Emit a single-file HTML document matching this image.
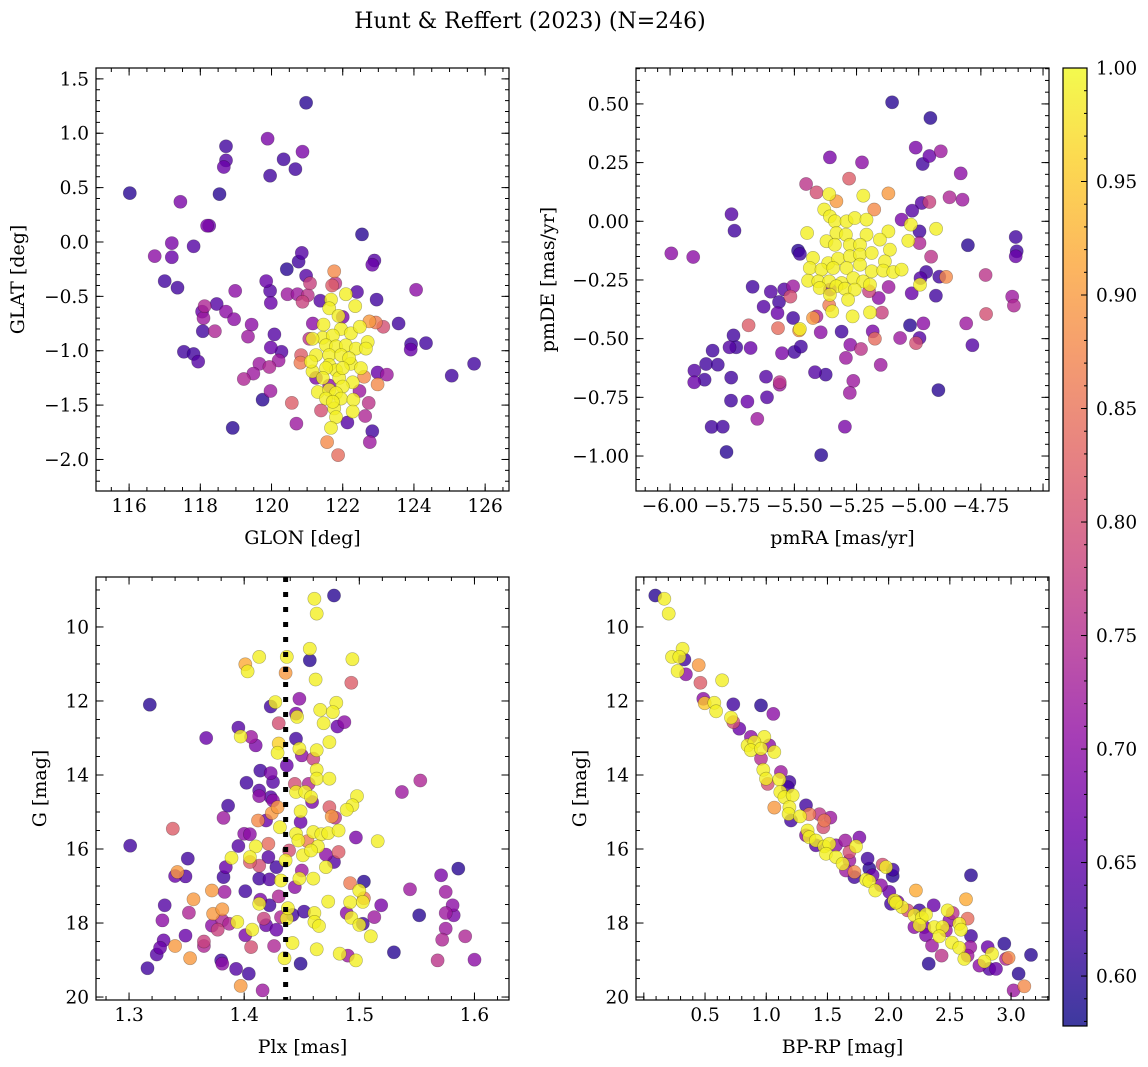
<!DOCTYPE html>
<html><head><meta charset="utf-8">
<style>
html,body{margin:0;padding:0;background:#fff;}
svg{display:block;font-family:"DejaVu Serif","Liberation Serif",serif;}
</style></head>
<body>
<svg id="fig" width="1148" height="1067" viewBox="0 0 1148 1067" xmlns="http://www.w3.org/2000/svg">
<defs>
<linearGradient id="cbgrad" x1="0" y1="1" x2="0" y2="0">
<stop offset="0" stop-color="#0d0887"/><stop offset="0.1" stop-color="#41049d"/><stop offset="0.2" stop-color="#6a00a8"/><stop offset="0.3" stop-color="#8f0da4"/><stop offset="0.4" stop-color="#b12a90"/><stop offset="0.5" stop-color="#cc4778"/><stop offset="0.6" stop-color="#e16462"/><stop offset="0.7" stop-color="#f2844b"/><stop offset="0.8" stop-color="#fca636"/><stop offset="0.9" stop-color="#fcce25"/><stop offset="1" stop-color="#f0f921"/>
</linearGradient>
</defs>
<text x="530" y="28" font-size="22" text-anchor="middle">Hunt &amp; Reffert (2023) (N=246)</text>
</svg>
<script>
// ---- Panel 1: GLON / GLAT ----
const p1Glon=[120.97,119.89,118.72,118.72,118.66,120.34,120.87,120.67,119.96,116.02,118.54,117.44,118.19,118.25,117.20,116.72,117.20,117.81,122.54,120.85,120.76,120.43,122.89,122.83,117.00,117.36,120.97,121.76,119.85,119.96,118.98,120.45,120.73,121.02,121.08,120.87,121.70,121.79,124.06,122.95,122.40,121.37,119.98,118.46,118.12,118.05,118.72,118.95,118.09,119.44,118.07,118.41,119.34,120.08,123.57,123.14,122.93,122.75,123.92,123.91,124.34,125.69,125.06,117.54,117.81,117.94,119.98,120.28,120.20,119.66,119.94,119.49,119.22,120.81,121.06,122.98,123.24,122.98,122.60,119.75,119.97,120.57,121.39,120.70,118.91,122.13,122.73,122.63,122.83,122.76,121.56,121.87,122.47,121.16,122.00,121.25,120.83,121.62,
121.67,121.62,121.88,122.09,122.35,121.46,121.95,122.23,122.48,121.44,121.15,121.72,121.53,121.81,122.09,122.37,122.70,122.65,121.25,121.62,121.95,122.23,121.62,121.81,121.53,121.15,121.44,121.90,122.28,122.00,121.30,121.62,121.81,121.53,121.95,122.30,121.76,122.28,121.81,121.67,121.72,122.18,121.11,122.00,122.51];
const p1Glat=[1.28,0.95,0.88,0.75,0.69,0.76,0.83,0.67,0.61,0.45,0.44,0.37,0.15,0.15,-0.01,-0.13,-0.14,-0.04,0.07,-0.10,-0.18,-0.25,-0.17,-0.21,-0.36,-0.42,-0.31,-0.27,-0.36,-0.45,-0.45,-0.48,-0.48,-0.49,-0.38,-0.55,-0.40,-0.38,-0.44,-0.53,-0.46,-0.54,-0.56,-0.57,-0.59,-0.64,-0.64,-0.71,-0.70,-0.76,-0.82,-0.82,-0.87,-0.85,-0.75,-0.78,-0.74,-0.73,-0.94,-0.99,-0.93,-1.12,-1.23,-1.01,-1.03,-1.10,-0.97,-1.01,-1.09,-1.12,-1.15,-1.21,-1.26,-1.11,-0.89,-1.20,-1.22,-1.31,-1.24,-1.45,-1.37,-1.48,-1.55,-1.67,-1.71,-1.66,-1.48,-1.60,-1.74,-1.84,-1.84,-1.96,-1.37,-0.75,-0.69,-1.25,-1.04,-1.32,
-0.53,-0.61,-0.68,-0.48,-0.59,-0.76,-0.80,-0.84,-0.78,-0.88,-0.89,-0.86,-0.95,-0.96,-0.95,-0.98,-0.92,-0.98,-1.04,-1.04,-1.04,-1.12,-1.13,-1.18,-1.16,-1.19,-1.25,-1.25,-1.29,-1.33,-1.38,-1.36,-1.39,-1.44,-1.44,-1.45,-1.53,-1.56,-1.61,-1.71,-1.47,-1.07,-1.10,-1.16,-1.16];
const p1Prob=[.6,.68,.62,.64,.66,.62,.68,.62,.62,.6,.6,.68,.68,.66,.68,.7,.66,.64,.6,.64,.62,.6,.64,.66,.62,.62,.64,.88,.66,.64,.7,.72,.72,.76,.78,.78,.82,.76,.7,.62,.64,.64,.66,.64,.74,.66,.7,.7,.72,.7,.62,.74,.72,.64,.62,.8,.86,.9,.62,.66,.62,.62,.62,.62,.62,.64,.66,.64,.72,.72,.74,.72,.74,.86,.76,.66,.72,.88,.88,.6,.72,.82,.8,.72,.6,.64,.76,.74,.62,.72,.88,.84,.72,.7,.68,.68,.82,.7,
.99,.99,.99,.99,.99,.99,.99,.99,.99,.99,.99,.99,.99,.99,.99,.99,.99,.99,.99,.99,.99,.99,.99,.99,.99,.99,.99,.99,.99,.99,.99,.99,.99,.99,.99,.99,.99,.99,.99,.99,.99,.99,.99,.99,.99];

// ---- Panel 2: pmRA / pmDE ----
const p2PmRA=[-5.107,-4.953,-5.012,-4.911,-4.957,-4.984,-5.357,-5.228,-4.831,-5.280,-5.453,-5.411,-5.122,-4.876,-4.824,-5.331,-4.988,-4.957,-5.179,-5.026,-5.753,-5.741,-5.995,-5.907,-4.610,-4.606,-4.610,-4.802,-5.069,-4.997,-4.997,-4.950,-5.485,-5.478,-4.731,-4.970,-4.993,-4.917,-4.890,-5.668,-5.595,-5.541,-5.505,-5.516,-5.562,-5.624,-5.568,-5.505,-5.684,-5.566,-5.481,-5.411,-5.425,-5.357,-5.360,-5.745,-5.761,-5.734,-5.676,-5.829,-5.550,-5.500,-5.474,-5.394,-5.310,-5.185,-5.176,-5.275,-5.232,-5.293,-5.153,-5.075,-5.011,-4.997,-5.035,-4.981,-4.809,-4.729,-4.784,-4.624,-4.617,-5.148,-5.200,-5.161,-5.121,-5.028,-4.931,-5.855,-5.808,-5.902,-5.903,-5.861,-5.754,-5.614,-5.559,-5.559,-5.417,-5.374,-5.263,-5.277,-5.755,-5.689,-5.610,-4.921,-5.649,-5.833,-5.788,-5.297,-5.773,-5.392,
-5.360,-5.223,-5.380,-5.357,-5.337,-5.290,-5.257,-5.210,-5.449,-5.331,-5.293,-5.210,-5.122,-4.930,-5.042,-5.371,-5.337,-5.277,-5.236,-5.156,-5.116,-5.425,-5.364,-5.324,-5.277,-5.236,-5.189,-5.136,-5.438,-5.391,-5.344,-5.290,-5.236,-5.189,-5.143,-5.102,-5.069,-5.445,-5.404,-5.360,-5.310,-5.263,-5.223,-5.196,-5.398,-5.331,-5.297,-5.257,-5.357,-5.284,-5.348,-5.266,-5.196,-5.478,-4.995,-5.032];
const p2PmDE=[0.507,0.44,0.314,0.298,0.278,0.244,0.272,0.251,0.204,0.182,0.159,0.123,0.119,0.102,0.092,0.085,0.078,0.082,0.05,0.045,0.03,-0.04,-0.137,-0.152,-0.067,-0.128,-0.149,-0.102,0.007,-0.043,-0.093,-0.151,-0.125,-0.139,-0.229,-0.216,-0.242,-0.236,-0.237,-0.279,-0.3,-0.29,-0.277,-0.321,-0.344,-0.364,-0.391,-0.412,-0.443,-0.455,-0.465,-0.405,-0.412,-0.291,-0.358,-0.486,-0.537,-0.537,-0.54,-0.551,-0.562,-0.557,-0.534,-0.473,-0.47,-0.469,-0.5,-0.526,-0.544,-0.582,-0.612,-0.497,-0.519,-0.497,-0.443,-0.435,-0.435,-0.395,-0.528,-0.321,-0.359,-0.389,-0.298,-0.327,-0.28,-0.307,-0.317,-0.608,-0.611,-0.636,-0.686,-0.675,-0.666,-0.662,-0.685,-0.696,-0.643,-0.653,-0.68,-0.731,-0.764,-0.768,-0.75,-0.719,-0.842,-0.876,-0.875,-0.875,-0.983,-0.996,
0.116,0.109,0.05,0.021,0,0,0.014,0.007,-0.05,-0.05,-0.057,-0.057,-0.043,-0.032,-0.083,-0.085,-0.1,-0.1,-0.1,-0.078,-0.121,-0.156,-0.178,-0.159,-0.149,-0.142,-0.135,-0.171,-0.199,-0.206,-0.199,-0.199,-0.185,-0.213,-0.21,-0.216,-0.206,-0.253,-0.256,-0.256,-0.263,-0.242,-0.256,-0.27,-0.284,-0.277,-0.287,-0.291,-0.313,-0.334,-0.384,-0.405,-0.388,-0.459,-0.27,-0.014];
const p2Prob=[.6,.6,.68,.72,.66,.62,.68,.7,.7,.82,.76,.8,.9,.74,.72,.9,.64,.78,.88,.64,.64,.62,.7,.7,.62,.62,.66,.6,.68,.62,.74,.76,.6,.62,.76,.62,.64,.62,.88,.62,.64,.64,.72,.8,.62,.64,.66,.62,.82,.84,.9,.74,.9,.7,.86,.62,.64,.62,.66,.62,.68,.62,.62,.7,.62,.68,.84,.7,.76,.72,.72,.72,.8,.64,.6,.7,.72,.8,.64,.72,.74,.78,.78,.7,.72,.66,.62,.62,.62,.64,.66,.62,.62,.64,.76,.72,.64,.62,.72,.72,.62,.66,.64,.6,.72,.62,.62,.68,.6,.6,
.99,.99,.99,.99,.99,.99,.99,.99,.99,.99,.99,.99,.99,.99,.99,.99,.99,.99,.99,.99,.99,.99,.99,.99,.99,.99,.99,.99,.99,.99,.99,.99,.99,.99,.99,.99,.99,.99,.99,.99,.99,.99,.99,.99,.99,.99,.99,.99,.99,.99,.99,.99,.99,.99,.99,.99];

// ---- Panel 3: Plx / G ----
const p3Plx=[1.478,1.461,1.463,1.457,1.457,1.494,1.413,1.437,1.401,1.403,1.436,1.462,1.493,1.318,1.423,1.427,1.448,1.480,1.466,1.477,1.469,1.481,1.487,1.445,1.446,1.430,1.395,1.367,1.397,1.406,1.410,1.430,1.429,1.445,1.448,1.450,1.460,1.463,1.474,1.437,1.463,1.463,1.474,1.414,1.423,1.425,1.402,1.413,1.413,1.423,1.425,1.444,1.456,1.445,1.453,1.458,1.459,1.498,1.494,1.489,1.537,1.553,1.386,1.382,1.338,1.412,1.419,1.424,1.429,1.449,1.449,1.431,1.474,1.476,1.479,1.301,1.351,1.342,1.340,1.349,1.400,1.405,1.395,1.410,1.421,1.405,1.389,1.405,1.421,1.413,1.428,1.436,1.384,1.382,1.413,1.422,1.432,1.445,1.455,1.447,1.460,1.467,1.473,1.482,1.464,1.451,1.458,1.471,1.478,1.471,1.482,1.497,1.516,1.439,1.450,1.448,1.460,1.444,1.401,1.383,1.372,1.356,1.331,1.352,1.329,1.373,1.381,1.394,1.381,1.372,1.377,1.387,1.330,1.324,1.316,1.327,1.340,1.349,1.353,1.365,1.365,1.380,1.381,1.393,1.404,1.397,1.416,1.401,1.406,1.407,1.414,1.417,1.419,1.413,1.422,1.430,1.428,1.426,1.435,1.432,1.437,1.438,1.442,1.452,1.442,1.449,1.461,1.461,1.465,1.463,1.473,1.483,1.490,1.497,1.489,1.493,1.492,1.492,1.500,1.504,1.503,1.504,1.500,1.503,1.510,1.513,1.519,1.530,1.544,1.552,1.571,1.586,1.575,1.581,1.575,1.582,1.575,1.572,1.592,1.568,1.600];
const p3G=[9.15,9.24,9.64,10.59,10.90,10.87,10.81,10.81,11.01,11.20,11.24,11.42,11.51,12.10,12.15,12.03,11.94,12.05,12.24,12.30,12.60,12.69,12.57,12.34,12.43,12.60,12.72,13.00,12.96,12.97,13.20,13.15,13.40,13.02,13.29,13.47,13.56,13.33,13.11,13.74,13.86,14.10,14.10,13.88,13.95,14.19,14.21,14.42,14.57,14.60,14.69,14.24,14.24,14.46,14.46,14.60,14.73,14.57,14.82,14.94,14.46,14.15,14.83,15.16,15.45,15.23,15.23,15.03,14.87,14.98,15.27,15.41,14.87,15.12,15.15,15.91,16.26,16.62,16.73,16.74,15.59,15.60,15.92,15.93,15.86,16.22,16.24,16.35,16.22,16.45,16.49,16.31,16.49,16.76,16.80,16.82,16.85,15.59,15.79,15.77,15.54,15.60,15.57,15.50,15.93,16.17,16.04,16.15,16.35,16.49,16.08,15.69,15.79,16.04,16.58,16.80,16.80,17.03,17.14,17.16,17.12,17.36,17.52,17.72,17.93,17.75,17.63,17.97,17.93,18.07,18.18,18.02,18.47,18.85,19.22,18.67,18.62,18.34,18.95,18.50,18.62,19.01,19.10,19.24,19.37,19.70,19.82,18.33,18.65,18.18,17.37,17.88,18.06,17.48,17.52,17.28,18.18,18.62,18.95,17.84,17.88,17.60,17.78,17.69,18.54,19.10,17.73,17.97,18.08,18.71,17.42,18.83,18.88,19.01,17.73,17.86,17.44,16.92,17.12,16.88,17.43,17.33,18.05,18.02,18.36,17.84,17.52,18.79,17.09,17.79,16.71,16.53,17.16,17.52,17.73,17.79,18.15,18.45,18.36,19.01,18.99];
const p3Prob=[.6,.99,.99,.99,.6,.99,.99,.99,.92,.99,.9,.99,.82,.6,.62,.99,.7,.99,.99,.99,.99,.66,.7,.68,.99,.8,.64,.66,.99,.72,.68,.96,.99,.62,.99,.7,.78,.99,.99,.66,.99,.99,.99,.62,.68,.64,.62,.64,.7,.64,.7,.8,.74,.99,.99,.99,.68,.99,.99,.99,.72,.74,.62,.72,.82,.88,.66,.9,.9,.99,.66,.99,.82,.9,.76,.62,.62,.9,.66,.64,.7,.7,.64,.99,.84,.99,.99,.82,.64,.8,.62,.99,.66,.62,.62,.64,.99,.99,.86,.99,.99,.99,.99,.99,.99,.99,.99,.7,.64,.99,.82,.68,.99,.8,.72,.99,.99,.7,.62,.72,.9,.9,.64,.74,.7,.9,.9,.99,.74,.7,.78,.74,.66,.64,.62,.66,.9,.66,.9,.78,.74,.62,.7,.64,.62,.9,.72,.68,.8,.99,.68,.78,.66,.99,.62,.74,.66,.74,.99,.74,.99,.99,.62,.62,.99,.6,.99,.99,.99,.99,.99,.99,.72,.99,.7,.99,.99,.86,.99,.6,.99,.86,.99,.62,.99,.72,.68,.6,.72,.6,.68,.6,.72,.7,.72,.68,.72,.74,.74,.76,.7];

// ---- Panel 4: BP-RP / G ----
const p4Color=[0.094,0.167,0.203,0.317,0.230,0.290,0.331,0.276,0.344,0.448,0.462,0.639,0.486,0.497,0.576,0.590,0.731,0.957,1.058,0.712,0.731,0.780,0.875,0.984,0.848,0.903,0.875,0.957,1.025,1.066,0.957,0.976,0.998,1.012,1.120,1.107,1.189,1.175,1.115,1.148,1.216,1.325,1.066,1.189,1.183,1.202,1.276,1.352,1.434,1.474,1.524,1.466,1.338,1.352,1.406,1.325,1.406,1.474,1.515,1.488,1.570,1.646,1.761,1.733,1.679,1.570,1.624,1.679,1.651,1.720,1.720,1.828,1.951,1.978,1.842,1.869,2.033,2.033,1.815,1.842,1.891,1.937,2.005,2.046,2.019,2.073,2.109,2.155,2.223,2.673,2.632,2.251,2.368,2.482,2.523,2.645,2.210,2.272,2.305,2.251,2.291,2.373,2.441,2.496,2.577,2.591,2.210,2.305,2.414,2.468,2.354,2.433,2.517,2.577,2.673,2.667,2.645,2.618,2.741,2.809,2.844,2.782,2.822,2.877,2.945,2.959,2.980,3.163,3.062,3.021,3.108,2.327,2.060];
const p4G=[9.15,9.24,9.64,10.59,10.81,10.81,10.88,11.19,11.28,11.03,11.51,11.44,11.94,12.06,12.05,12.28,12.09,12.12,12.35,12.45,12.57,12.75,12.97,12.97,13.20,13.11,13.33,13.29,13.20,13.38,13.56,13.86,14.10,14.24,13.92,14.12,14.19,14.33,14.46,14.60,14.55,14.82,14.88,14.87,15.05,15.23,15.12,15.06,15.06,15.23,15.15,15.41,15.50,15.68,15.77,15.63,15.90,15.93,15.86,16.13,15.90,15.77,15.69,15.93,16.08,16.22,16.40,16.31,16.58,16.76,16.62,16.26,16.42,16.49,16.53,16.71,16.73,16.56,16.83,16.87,17.12,16.98,17.16,17.39,17.48,17.43,17.57,17.66,17.12,16.71,17.36,17.66,17.52,17.66,17.73,17.88,17.79,17.86,17.77,18.06,18.11,18.11,18.11,17.93,18.02,18.18,18.11,18.33,18.36,18.20,18.61,18.88,18.53,18.67,18.35,18.65,18.88,18.97,19.15,18.65,18.83,19.04,19.24,19.24,18.56,18.97,18.94,18.86,19.37,19.82,19.71,19.10,17.45];
const p4Prob=[.6,.99,.99,.99,.99,.99,.62,.99,.7,.9,.82,.99,.7,.95,.99,.99,.62,.6,.7,.99,.8,.66,.7,.99,.99,.99,.99,.99,.7,.99,.75,.99,.99,.8,.72,.99,.62,.62,.99,.99,.99,.62,.9,.99,.99,.62,.99,.86,.76,.86,.72,.8,.99,.99,.99,.7,.64,.99,.99,.99,.7,.72,.68,.99,.8,.99,.99,.72,.72,.62,.88,.62,.8,.99,.6,.66,.6,.62,.99,.99,.99,.7,.66,.99,.62,.68,.99,.8,.92,.6,.92,.62,.66,.99,.76,.84,.99,.99,.99,.99,.68,.99,.99,.7,.99,.99,.7,.68,.99,.72,.72,.76,.99,.99,.62,.72,.72,.99,.7,.66,.99,.99,.64,.66,.6,.74,.88,.6,.6,.72,.88,.6,.99];

// ---- Colorbar ticks ----
const cbTicks=[0.60,0.65,0.70,0.75,0.80,0.85,0.90,0.95,1.00];
const P3_PLX_LINE=1.436;

const NS="http://www.w3.org/2000/svg";
const svg=document.getElementById('fig');
const VMIN=0.578,VMAX=1.0;
const TFS=18.5, LFS=19;
const stops=[[13,8,135],[65,4,157],[106,0,168],[143,13,164],[177,42,144],[204,71,120],[225,100,98],[242,132,75],[252,166,54],[252,206,37],[240,249,33]];
function cmap(v){let t=(v-VMIN)/(VMAX-VMIN);t=Math.max(0,Math.min(1,t))*10;const i=Math.min(9,Math.floor(t));const f=t-i;const a=stops[i],b=stops[i+1];return 'rgb('+a.map((c,k)=>Math.round(c+(b[k]-c)*f)).join(',')+')';}
function mk(tag,attrs,parent){const e=document.createElementNS(NS,tag);for(const k in attrs)e.setAttribute(k,attrs[k]);(parent||svg).appendChild(e);return e;}
function fmt(v,d){const s=Math.abs(v).toFixed(d);return (v<-1e-9?'\u2212':'')+s;}

function panel(cfg,xs,ys,ps){
  const g=mk('g',{});
  
  
  const L=cfg.L,R=cfg.R,T=cfg.T,B=cfg.B;
  const sx=v=>L+(v-cfg.x0)/(cfg.x1-cfg.x0)*(R-L);
  const sy=cfg.yinv?(v=>T+(v-cfg.y0)/(cfg.y1-cfg.y0)*(B-T)):(v=>B-(v-cfg.y0)/(cfg.y1-cfg.y0)*(B-T));
  const pg=mk('g',{},g);
  
  
  const idx=ps.map((p,i)=>i).sort((a,b)=>ps[a]-ps[b]);
  idx.forEach(i=>{
    const c=mk('circle',{cx:sx(xs[i]).toFixed(1),cy:sy(ys[i]).toFixed(1),r:6.6,fill:cmap(ps[i]),'fill-opacity':0.8,stroke:'rgba(0,0,0,0.3)','stroke-width':0.6},pg);
    
    
  });
  if(cfg.vline!==undefined){
    const l=mk('line',{x1:sx(cfg.vline),x2:sx(cfg.vline),y1:T,y2:B,stroke:'#000','stroke-width':5,'stroke-dasharray':'5 10'},g);
    
    
  }
  const tk=mk('g',{stroke:'#000','stroke-width':1},g);
  
  
  function xt(step,len){const s=Math.ceil((cfg.x0)/step-1e-6);for(let k=s;k*step<=cfg.x1+1e-9;k++){const x=sx(k*step);mk('line',{x1:x,x2:x,y1:B,y2:B-len},tk);mk('line',{x1:x,x2:x,y1:T,y2:T+len},tk);}}
  function yt(step,len){const lo=Math.min(cfg.y0,cfg.y1),hi=Math.max(cfg.y0,cfg.y1);const s=Math.ceil(lo/step-1e-6);for(let k=s;k*step<=hi+1e-9;k++){const y=sy(k*step);mk('line',{x1:L,x2:L+len,y1:y,y2:y},tk);mk('line',{x1:R,x2:R-len,y1:y,y2:y},tk);}}
  xt(cfg.xmin,4);xt(cfg.xmaj,7.5);yt(cfg.ymin,4);yt(cfg.ymaj,7.5);
  cfg.xticks.forEach(v=>{const t=mk('text',{x:sx(v),y:B+21,'font-size':TFS,'text-anchor':'middle'},g);t.textContent=fmt(v,cfg.xd);});
  cfg.yticks.forEach(v=>{const t=mk('text',{x:L-7,y:sy(v)+6.5,'font-size':TFS,'text-anchor':'end'},g);t.textContent=fmt(v,cfg.yd);});
  mk('rect',{x:L,y:T,width:R-L,height:B-T,fill:'none',stroke:'#000','stroke-width':1.2},g);
  const xl=mk('text',{x:(L+R)/2,y:B+53,'font-size':LFS,'text-anchor':'middle'},g);xl.textContent=cfg.xlabel;
  
  const ylx=cfg.ylx,yly=(T+B)/2;
  const yl=mk('text',{x:ylx,y:yly,'font-size':LFS,'text-anchor':'middle',transform:`rotate(-90 ${ylx} ${yly})`},g);yl.textContent=cfg.ylabel;
  
}

panel({name:'glon-glat-panel',L:96,R:509,T:68,B:491,x0:115.07,x1:126.67,y0:-2.29,y1:1.60,xmaj:2,xmin:0.5,ymaj:0.5,ymin:0.1,
  xticks:[116,118,120,122,124,126],xd:0,yticks:[-2,-1.5,-1,-0.5,0,0.5,1,1.5],yd:1,xlabel:'GLON [deg]',ylabel:'GLAT [deg]',ylx:24},p1Glon,p1Glat,p1Prob);
panel({name:'proper-motion-panel',L:636,R:1049,T:68,B:491,x0:-6.137,x1:-4.476,y0:-1.149,y1:0.653,xmaj:0.25,xmin:0.05,ymaj:0.25,ymin:0.05,
  xticks:[-6,-5.75,-5.5,-5.25,-5,-4.75],xd:2,yticks:[-1,-0.75,-0.5,-0.25,0,0.25,0.5],yd:2,xlabel:'pmRA [mas/yr]',ylabel:'pmDE [mas/yr]',ylx:554},p2PmRA,p2PmDE,p2Prob);
panel({name:'parallax-magnitude-panel',L:96,R:509,T:577,B:1000,x0:1.2713,x1:1.630,y0:8.65,y1:20.08,yinv:true,xmaj:0.1,xmin:0.02,ymaj:2,ymin:0.5,
  xticks:[1.3,1.4,1.5,1.6],xd:1,yticks:[10,12,14,16,18,20],yd:0,xlabel:'Plx [mas]',ylabel:'G [mag]',ylx:46,vline:P3_PLX_LINE},p3Plx,p3G,p3Prob);
panel({name:'cmd-panel',L:636,R:1049,T:577,B:1000,x0:-0.064,x1:3.31,y0:8.65,y1:20.08,yinv:true,xmaj:0.5,xmin:0.1,ymaj:2,ymin:0.5,
  xticks:[0.5,1,1.5,2,2.5,3],xd:1,yticks:[10,12,14,16,18,20],yd:0,xlabel:'BP-RP [mag]',ylabel:'G [mag]',ylx:586},p4Color,p4G,p4Prob);

// colorbar
(function(){
  const L=1063,R=1087,T=68,B=1026;
  const g=mk('g',{});
  
  
  mk('rect',{x:L,y:T,width:R-L,height:B-T,fill:'url(#cbgrad)','fill-opacity':0.8},g);
  const sy=v=>B-(v-VMIN)/(VMAX-VMIN)*(B-T);
  for(let k=58;k<=100;k++){const y=sy(k/100);mk('line',{x1:R,x2:R-3,y1:y,y2:y,stroke:'#000','stroke-width':1},g);}
  cbTicks.forEach(v=>{const y=sy(v);mk('line',{x1:R,x2:R-6,y1:y,y2:y,stroke:'#000','stroke-width':1},g);
    const t=mk('text',{x:R+9,y:y+6.5,'font-size':TFS},g);t.textContent=v.toFixed(2);
    });
  mk('rect',{x:L,y:T,width:R-L,height:B-T,fill:'none',stroke:'#000','stroke-width':1.2},g);
})();
</script>
</body></html>
